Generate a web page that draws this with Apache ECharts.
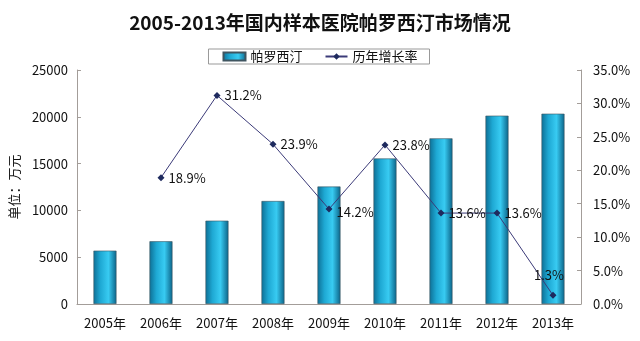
<!DOCTYPE html>
<html><head><meta charset="utf-8">
<script src="https://cdn.jsdelivr.net/npm/echarts@6/dist/echarts.min.js"></script>
<style>html,body{margin:0;padding:0;background:#fff}#c{width:640px;height:341px}</style>
</head><body><div id="c"></div>
<script>
var categories = ['2005年','2006年','2007年','2008年','2009年','2010年','2011年','2012年','2013年'];
var salesValues = [5700, 6700, 8900, 11000, 12550, 15550, 17700, 20120, 20330];
var growthValues = [null, 18.9, 31.2, 23.9, 14.2, 23.8, 13.6, 13.6, 1.3];
var leftTicks = [0, 5000, 10000, 15000, 20000, 25000];
var rightTicks = [0, 5, 10, 15, 20, 25, 30, 35];

var font = '"Noto Sans CJK SC", "DejaVu Sans", sans-serif';
var chart = echarts.init(document.getElementById('c'));
var axisColor = '#a39d99';
chart.setOption({
  animation: false,
  textStyle: {fontFamily: font},
  title: {text: '2005-2013年国内样本医院帕罗西汀市场情况', left: 'center', top: 8,
    textStyle: {fontSize: 19, fontWeight: 'bold', color: '#111', fontFamily: font}},
  legend: {top: 49, left: 'center', padding: [1, 12, 1, 14], itemGap: 22,
    borderColor: '#999', borderWidth: 1, itemWidth: 22, itemHeight: 8,
    textStyle: {fontSize: 13, color: '#111', fontFamily: font},
    data: [{name: '帕罗西汀', icon: 'rect'}, {name: '历年增长率'}]},
  grid: {left: 75, right: 59, top: 70, bottom: 37},
  xAxis: {type: 'category', data: categories,
    axisLine: {lineStyle: {color: axisColor}},
    axisTick: {inside: true, length: 4, lineStyle: {color: axisColor}},
    axisLabel: {color: '#111', fontSize: 13, margin: 13, fontFamily: font}},
  yAxis: [
    {type: 'value', min: leftTicks[0], max: leftTicks[leftTicks.length-1], interval: 5000,
     name: '单位：万元', nameLocation: 'middle', nameGap: 52, nameRotate: 90,
     nameTextStyle: {fontSize: 13, color: '#111', fontFamily: font},
     axisLine: {show: true, lineStyle: {color: axisColor}},
     axisTick: {show: true, inside: true, length: 4, lineStyle: {color: axisColor}},
     splitLine: {show: false},
     axisLabel: {color: '#111', fontSize: 13, margin: 9, fontFamily: font,
       formatter: function(v){ return String(v); }}},
    {type: 'value', min: rightTicks[0], max: rightTicks[rightTicks.length-1], interval: 5,
     axisLine: {show: true, lineStyle: {color: axisColor}},
     axisTick: {show: true, inside: true, length: 4, lineStyle: {color: axisColor}},
     splitLine: {show: false},
     axisLabel: {color: '#111', fontSize: 13, margin: 12, fontFamily: font,
       formatter: function(v){ return v.toFixed(1) + '%'; }}}
  ],
  series: [
    {name: '帕罗西汀', type: 'bar', data: salesValues, barWidth: 23, yAxisIndex: 0,
     itemStyle: {
       borderColor: '#3f5560', borderWidth: 0.6,
       color: new echarts.graphic.LinearGradient(0, 0, 1, 0, [
         {offset: 0, color: '#0d6f95'},
         {offset: 0.3, color: '#1ea8d3'},
         {offset: 0.65, color: '#38cbf2'},
         {offset: 1, color: '#0b6388'}
       ])}},
    {name: '历年增长率', type: 'line', data: growthValues.map(function(v, i){
        if (v === null) return null;
        if (i === 8) return {value: v, label: {position: 'top', offset: [-4, -6]}};
        if (i === 4) return {value: v, label: {offset: [0, 3]}};
        return v;
      }), yAxisIndex: 1,
     symbol: 'diamond', symbolSize: 7, connectNulls: false,
     lineStyle: {color: '#3b3a78', width: 1},
     itemStyle: {color: '#1e2a5e'},
     label: {show: true, position: 'right', distance: 4, color: '#111', fontSize: 13, fontFamily: font,
       formatter: function(p){ return p.value.toFixed(1) + '%'; }}}
  ]
});
</script></body></html>
